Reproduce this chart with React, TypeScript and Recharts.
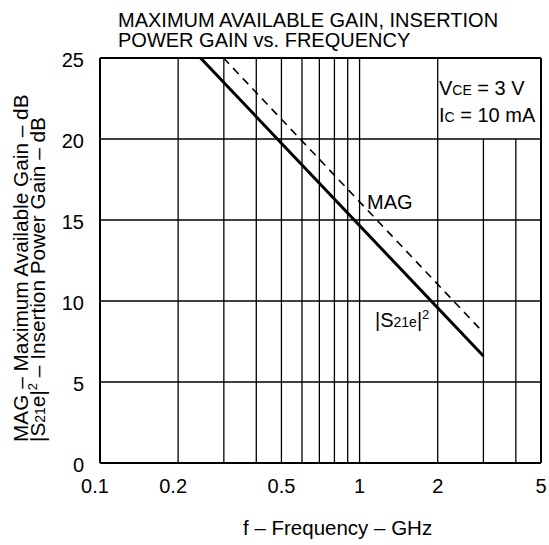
import React from 'react';
import { ComposedChart, Line, XAxis, YAxis, ReferenceLine } from 'recharts';

const xTicks = [0.1, 0.2, 0.5, 1, 2, 5];
const yTicks = [0, 5, 10, 15, 20, 25];
const gridXFull = [0.2, 0.3, 0.4, 0.5, 0.6, 0.7, 0.8, 0.9, 1, 2];
const gridXPartial = [3, 4];
const gridY = [5, 10, 15, 20];
const magData = [
  { f: 0.299, gain: 25 },
  { f: 3, gain: 8.05 },
];
const s21Data = [
  { f: 0.244, gain: 25 },
  { f: 3, gain: 6.6 },
];

const FONT = 'Liberation Sans, Arial, Helvetica, sans-serif';
const W = 549;
const H = 545;

const XTick = (props: any) => {
  const { x, y, payload } = props;
  const v = payload.value as number;
  const shift = v < 0.3 ? -5 : 0;
  return (
    <text x={x + shift} y={y} dy={14.5} textAnchor="middle" fill="#000" fontSize={20} fontFamily={FONT}>
      {String(v)}
    </text>
  );
};

export default function App() {
  return (
    <div style={{ position: 'absolute', left: 0, top: 0, width: W, height: H, background: '#fff' }}>
      <ComposedChart width={W} height={H} margin={{ top: 58, right: 8, bottom: 0, left: 0 }}>
        <XAxis
          dataKey="f"
          type="number"
          scale="log"
          domain={[0.1, 5]}
          allowDataOverflow
          ticks={xTicks}
          axisLine={false}
          tickLine={false}
          tickSize={6}
          tickMargin={9}
          height={82}
          interval={0}
          tick={<XTick />}
        />
        <YAxis
          type="number"
          domain={[0, 25]}
          allowDataOverflow
          ticks={yTicks}
          axisLine={false}
          tickLine={false}
          tickSize={6}
          tickMargin={10}
          width={100}
          interval={0}
          tick={{ fill: '#000', fontSize: 20, fontFamily: FONT, dy: 2 }}
        />
        {gridY.map((v) => (
          <ReferenceLine key={'gy' + v} y={v} stroke="#000" strokeWidth={1.3} />
        ))}
        {gridXFull.map((v) => (
          <ReferenceLine key={'gx' + v} x={v} stroke="#000" strokeWidth={1.3} />
        ))}
        {gridXPartial.map((v) => (
          <ReferenceLine
            key={'gp' + v}
            segment={[{ x: v, y: 0 }, { x: v, y: 20 }]}
            stroke="#000"
            strokeWidth={1.3}
          />
        ))}
        <ReferenceLine x={0.1} stroke="#000" strokeWidth={2} />
        <ReferenceLine x={5} stroke="#000" strokeWidth={2} />
        <ReferenceLine y={0} stroke="#000" strokeWidth={2} />
        <ReferenceLine y={25} stroke="#000" strokeWidth={2} />
        <Line
          data={magData}
          dataKey="gain"
          type="linear"
          stroke="#000"
          strokeWidth={1.6}
          strokeDasharray="8 6"
          dot={false}
          activeDot={false}
          isAnimationActive={false}
        />
        <Line
          data={s21Data}
          dataKey="gain"
          type="linear"
          stroke="#000"
          strokeWidth={3}
          dot={false}
          activeDot={false}
          isAnimationActive={false}
        />
        <g fontFamily={FONT} fill="#000">
          <text x={118} y={27} fontSize={20}>MAXIMUM AVAILABLE GAIN, INSERTION</text>
          <text x={118} y={47} fontSize={20}>POWER GAIN vs. FREQUENCY</text>
          <text x={439} y={95} fontSize={20}>
            V<tspan fontSize={14}>CE</tspan> = 3 V
          </text>
          <text x={439} y={122} fontSize={20}>
            I<tspan fontSize={14}>C</tspan> = 10 mA
          </text>
          <text x={367} y={209} fontSize={20}>MAG</text>
          <text x={375} y={327} fontSize={20}>
            |S<tspan fontSize={14}>21e</tspan>|<tspan fontSize={13} dy={-8}>2</tspan>
          </text>
          <text x={243} y={535} fontSize={20.5}>f – Frequency – GHz</text>
          <text transform="rotate(-90)" x={-442} y={28} fontSize={20.8}>
            MAG – Maximum Available Gain – dB
          </text>
          <text transform="rotate(-90)" x={-442} y={45} fontSize={20.8}>
            |S<tspan fontSize={14}>21</tspan>e|<tspan fontSize={13} dy={-8}>2</tspan>
            <tspan dy={8}> – Insertion Power Gain – dB</tspan>
          </text>
        </g>
      </ComposedChart>
    </div>
  );
}
